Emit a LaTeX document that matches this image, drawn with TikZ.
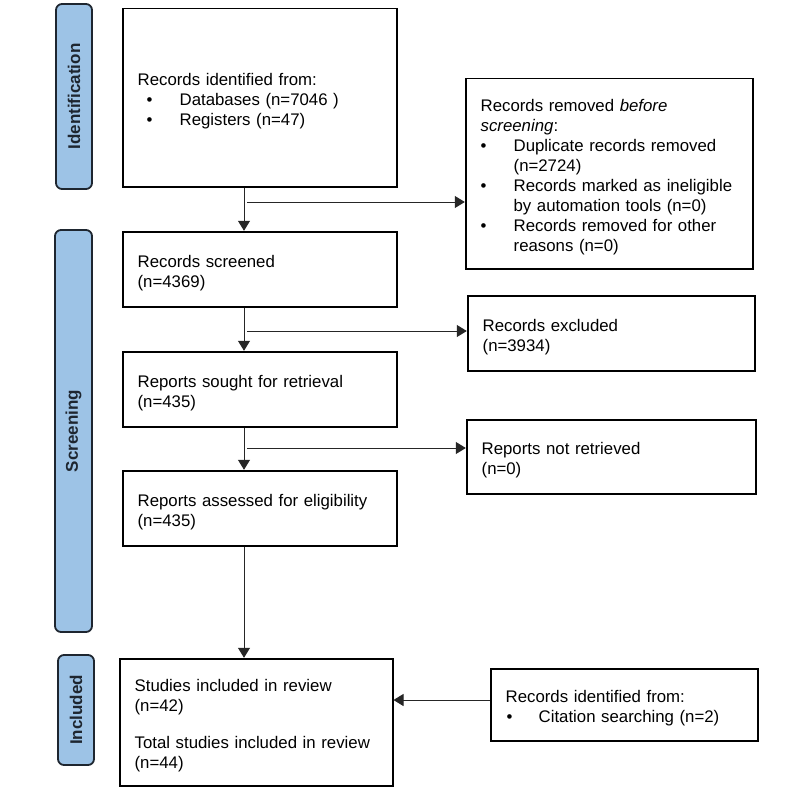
\documentclass[tikz,border=0pt]{standalone}
\usepackage{fontspec}
\setmainfont{Liberation Sans}
\usetikzlibrary{arrows.meta}
\definecolor{phasefill}{RGB}{157,195,230}
\definecolor{phaseline}{RGB}{30,38,48}
\newcommand\bitem[3]{\makebox[#2][l]{\hspace*{#1}\textbullet}#3}
\begin{document}
\begin{tikzpicture}[x=1pt,y=-1pt,
  box/.style={draw=black,line width=1.7pt,inner xsep=15pt,inner ysep=0pt,align=left,
    font=\fontsize{16.8}{20}\selectfont,anchor=north west,
    execute at begin node={\rule{0pt}{20pt}}},
  phase/.style={draw=phaseline,line width=1.8pt,fill=phasefill,rounded corners=6pt,
    rotate=90,inner sep=0pt,font=\fontsize{17}{20}\selectfont\bfseries,text=phaseline},
  conn/.style={line width=1pt,draw=black!85},
  arr/.style={conn,-{Triangle[length=10pt,width=12pt]}}
]
\useasboundingbox (0,0) rectangle (794,789);

% phase labels
\node[phase,minimum width=185pt,minimum height=36pt] (lab1) at (74,96.5) {Identification};
\node[phase,minimum width=402pt,minimum height=37pt] (lab2) at (73.5,431) {Screening};
\node[phase,minimum width=110pt,minimum height=36pt] (lab3) at (76,710) {Included};

% boxes
\node[box,text width=244pt,minimum height=178pt] (b1) at (121.8,7.8) {Records identified from:\\
\bitem{9pt}{42pt}{Databases (n=7046 )}\\
\bitem{9pt}{42pt}{Registers (n=47)}};

\node[box,text width=257pt,minimum height=190pt] (b2) at (464.8,77.8) {Records removed \textit{before}\\
\textit{screening}:\\
\bitem{0pt}{33pt}{Duplicate records removed}\\
\hspace*{33pt}(n=2724)\\
\bitem{0pt}{33pt}{Records marked as ineligible}\\
\hspace*{33pt}by automation tools (n=0)\\
\bitem{0pt}{33pt}{Records removed for other}\\
\hspace*{33pt}reasons (n=0)};

\node[box,text width=244pt,minimum height=75pt] (b3) at (121.8,230.8) {Records screened\\(n=4369)};
\node[box,text width=257pt,minimum height=75pt] (b4) at (466.8,294.8) {Records excluded\\(n=3934)};
\node[box,text width=244pt,minimum height=75pt] (b5) at (121.8,350.8) {Reports sought for retrieval\\(n=435)};
\node[box,text width=259pt,minimum height=74pt] (b6) at (465.8,418.8) {Reports not retrieved\\(n=0)};
\node[box,text width=244pt,minimum height=75pt] (b7) at (121.8,469.8) {Reports assessed for eligibility\\(n=435)};
\node[box,text width=243pt,minimum height=127pt] (b8) at (118.8,657.8) {Studies included in review\\(n=42)\\[17pt]
Total studies included in review\\(n=44)};
\node[box,text width=237pt,minimum height=72pt] (b9) at (489.8,667.8) {Records identified from:\\
\bitem{1pt}{33pt}{Citation searching (n=2)}};

% connector helpers
\coordinate (ax) at (244,0);
\coordinate (br1) at (247,202);
\coordinate (br2) at (247,331);
\coordinate (br3) at (247,448);
\coordinate (br4) at (0,700);

% vertical flow
\draw[arr] (b1.south -| ax) -- (b3.north -| ax);
\draw[arr] (b3.south -| ax) -- (b5.north -| ax);
\draw[arr] (b5.south -| ax) -- (b7.north -| ax);
\draw[arr] (b7.south -| ax) -- (b8.north -| ax);

% side branches
\draw[arr] (br1) -- (br1 -| b2.west);
\draw[arr] (br2) -- (br2 -| b4.west);
\draw[arr] (br3) -- (br3 -| b6.west);
\draw[arr] (br4 -| b9.west) -- (br4 -| b8.east);
\end{tikzpicture}
\end{document}
